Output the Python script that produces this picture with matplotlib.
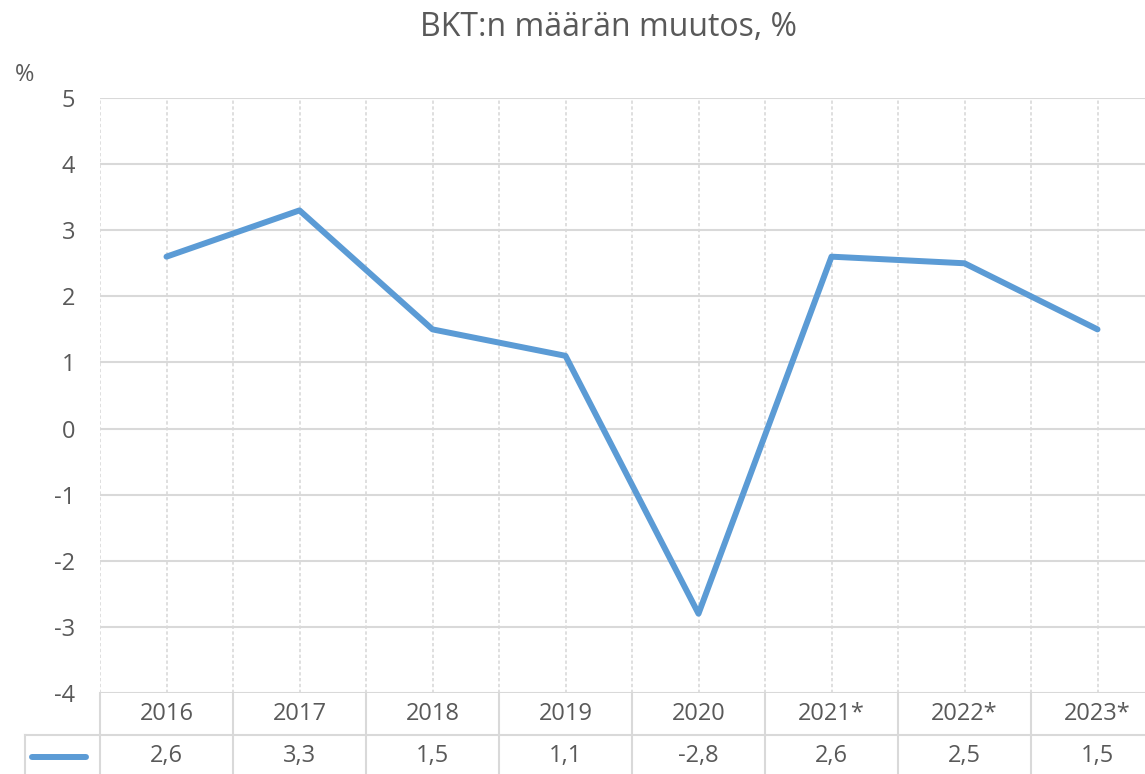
import matplotlib.pyplot as plt
from matplotlib.lines import Line2D
from matplotlib.transforms import blended_transform_factory

plt.rcParams['font.family'] = ['Open Sans', 'DejaVu Sans']

# data
years = ['2016', '2017', '2018', '2019', '2020', '2021*', '2022*', '2023*']
change = [2.6, 3.3, 1.5, 1.1, -2.8, 2.6, 2.5, 1.5]
value_labels = ['2,6', '3,3', '1,5', '1,1', '-2,8', '2,6', '2,5', '1,5']
y_ticks = [-4, -3, -2, -1, 0, 1, 2, 3, 4, 5]

W, H = 1145, 774
line_color = '#5B9BD5'
grid_color = '#D9D9D9'
text_color = '#595959'

fig = plt.figure(figsize=(W / 100, H / 100), dpi=100)

# plot area runs a bit past the right edge, like the cropped original
left, right, top, bottom = 100, 1164, 98, 693
ax = fig.add_axes([left / W, 1 - bottom / H, (right - left) / W, (bottom - top) / H])

x = list(range(len(years)))
ax.plot(x, change, color=line_color, linewidth=4.3, solid_capstyle='round',
        solid_joinstyle='round', zorder=3)

ax.set_xlim(-0.5, len(years) - 0.5)
ax.set_ylim(-4, 5)
ax.set_yticks(y_ticks)
ax.set_yticklabels([str(v) for v in y_ticks], fontsize=17, color=text_color)
ax.set_xticks([])
ax.tick_params(axis='y', length=0, pad=18)
for s in ax.spines.values():
    s.set_visible(False)

for v in y_ticks:
    ax.axhline(v, color=grid_color, linewidth=1.5, zorder=1)
for i in range(len(years) + 1):
    ax.axvline(i - 0.5, color=grid_color, linewidth=1.2, linestyle=(0, (2, 1.5)), zorder=1)
    if i < len(years):
        ax.axvline(i, color=grid_color, linewidth=1.2, linestyle=(0, (2, 1.5)), zorder=1)

fig.text(608 / W, 1 - 27 / H, 'BKT:n määrän muutos, %', fontsize=23, color=text_color,
         ha='center', va='center')
fig.text(25 / W, 1 - 75 / H, '%', fontsize=17, color=text_color, ha='center', va='center')

# data table under the plot
row_h = 42 / (bottom - top)
tr = blended_transform_factory(ax.transData, ax.transAxes)
for i, (yr, lab) in enumerate(zip(years, value_labels)):
    ax.text(i, -row_h / 2, yr, transform=tr, ha='center', va='center',
            fontsize=17, color=text_color, clip_on=False)
    ax.text(i, -row_h * 1.5, lab, transform=tr, ha='center', va='center',
            fontsize=17, color=text_color, clip_on=False)
for i in range(len(years) + 1):
    ax.add_line(Line2D([i - 0.5, i - 0.5], [0, -row_h * 2.2], transform=tr,
                       color=grid_color, linewidth=1.5, clip_on=False))

fig.add_artist(Line2D([25 / W, 1], [1 - 735 / H, 1 - 735 / H], color=grid_color, linewidth=1.5))
fig.add_artist(Line2D([25 / W, 25 / W], [1 - 735 / H, 0], color=grid_color, linewidth=1.5))
fig.add_artist(Line2D([32 / W, 86 / W], [1 - 757 / H, 1 - 757 / H], color=line_color,
                      linewidth=4.3, solid_capstyle='round'))

fig.savefig('out.png', dpi=100)
